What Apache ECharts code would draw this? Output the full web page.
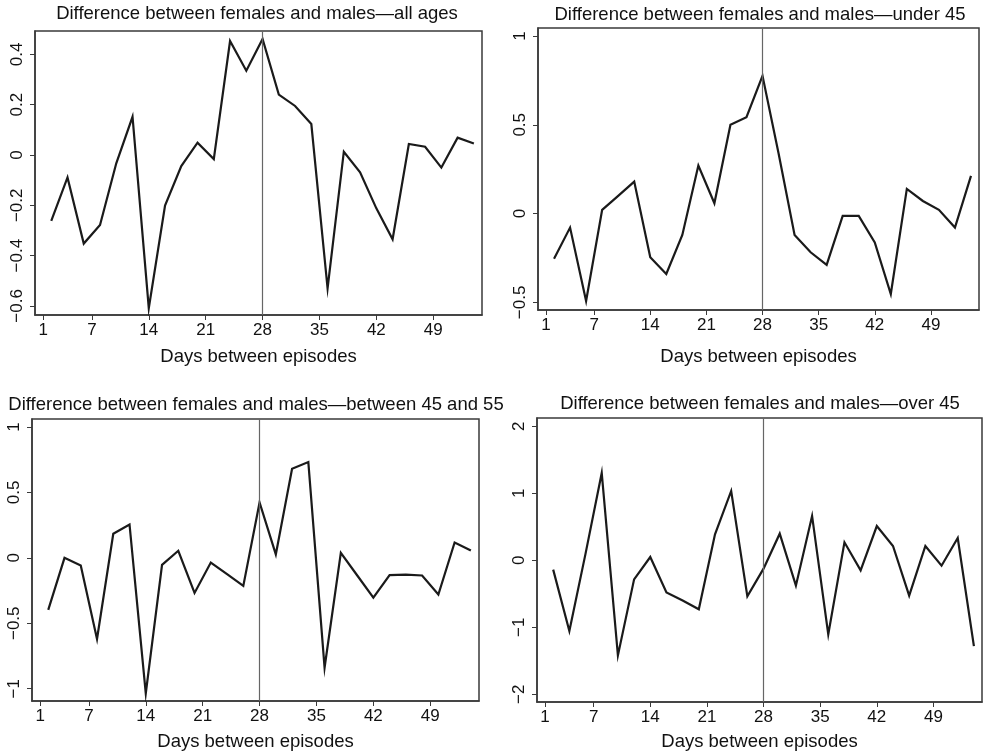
<!DOCTYPE html>
<html>
<head>
<meta charset="utf-8">
<script src="https://cdn.jsdelivr.net/npm/echarts@6/dist/echarts.min.js"></script>
<style>
html,body{margin:0;padding:0;background:#fff;}
#chart{width:983px;height:756px;}
</style>
</head>
<body>
<div id="chart"></div>
<script>
// ---- data ----
var days = [2,4,6,8,10,12,14,16,18,20,22,24,26,28,30,32,34,36,38,40,42,44,46,48,50,52,54];

var allAges = [-0.262,-0.089,-0.352,-0.278,-0.033,0.152,-0.609,-0.201,-0.044,0.049,-0.016,0.453,0.335,0.461,0.240,0.195,0.123,-0.530,0.013,-0.069,-0.212,-0.335,0.044,0.033,-0.050,0.069,0.046];
var under45 = [-0.254,-0.079,-0.492,0.021,0.100,0.180,-0.246,-0.340,-0.120,0.271,0.058,0.500,0.543,0.776,0.340,-0.120,-0.218,-0.289,-0.013,-0.013,-0.162,-0.453,0.139,0.071,0.021,-0.079,0.212];
var between45and55 = [-0.398,0.000,-0.059,-0.620,0.184,0.255,-1.036,-0.054,0.054,-0.268,-0.036,-0.125,-0.214,0.423,0.026,0.681,0.732,-0.839,0.038,-0.133,-0.304,-0.132,-0.128,-0.135,-0.280,0.117,0.056];
var over45 = [-0.139,-1.055,0.100,1.303,-1.418,-0.284,0.050,-0.478,-0.600,-0.731,0.388,1.035,-0.537,-0.124,0.398,-0.378,0.662,-1.104,0.269,-0.149,0.512,0.214,-0.527,0.214,-0.080,0.333,-1.279];

var xTicks = [1,7,14,21,28,35,42,49];
var yTicks1 = [-0.6,-0.4,-0.2,0,0.2,0.4];
var yTicks2 = [-0.5,0,0.5,1];
var yTicks3 = [-1,-0.5,0,0.5,1];
var yTicks4 = [-2,-1,0,1,2];

var titles = [
  'Difference between females and males\u2014all ages',
  'Difference between females and males\u2014under 45',
  'Difference between females and males\u2014between 45 and 55',
  'Difference between females and males\u2014over 45'
];
var xName = 'Days between episodes';
var refDay = 28;

// ---- chart ----
var FONT = '"Liberation Sans", Arial, Helvetica, sans-serif';
var FRAME = '#3a3a3a';

function fmt(v){
  var s = String(Math.abs(v));
  return (v < 0 ? '\u2212' : '') + s;
}
function pairs(vals){
  return days.map(function(d,i){ return [d, vals[i]]; });
}

var grids = [
  {left:35, top:31, width:447, height:284},
  {left:538, top:28, width:441, height:282},
  {left:32, top:419, width:447, height:282},
  {left:537, top:418, width:445, height:284}
];
var nameGaps = [32, 37, 31, 30];
var yRanges = [[-0.636,0.493],[-0.543,1.045],[-1.094,1.061],[-2.114,2.124]];
var yTickSets = [yTicks1,yTicks2,yTicks3,yTicks4];
var seriesVals = [allAges, under45, between45and55, over45];
var titlePos = [[257,14],[760,15],[256,405],[760,404]];

var option = {
  backgroundColor:'#fff',
  animation:false,
  grid: grids.map(function(g){
    return {left:g.left, top:g.top, width:g.width, height:g.height, show:true,
      borderColor:FRAME, borderWidth:1.5, backgroundColor:'#fff', containLabel:false};
  }),
  xAxis: grids.map(function(g,i){
    return {
      type:'value', gridIndex:i, min:0, max:55,
      name:xName, nameLocation:'middle', nameGap:nameGaps[i],
      nameTextStyle:{fontFamily:FONT, fontSize:18.5, color:'#111'},
      axisLine:{show:true, onZero:false, lineStyle:{color:FRAME, width:1.5}},
      axisTick:{show:true, inside:false, length:5, customValues:xTicks, lineStyle:{color:FRAME, width:1}},
      axisLabel:{show:true, margin:7, customValues:xTicks, fontFamily:FONT, fontSize:17, color:'#111',
        formatter:function(v){return fmt(v);}},
      splitLine:{show:false}
    };
  }),
  yAxis: grids.map(function(g,i){
    return {
      type:'value', gridIndex:i, min:yRanges[i][0], max:yRanges[i][1],
      axisLine:{show:true, onZero:false, lineStyle:{color:FRAME, width:1.5}},
      axisTick:{show:true, inside:false, length:5, customValues:yTickSets[i], lineStyle:{color:FRAME, width:1}},
      axisLabel:{show:true, rotate:90, margin:9, customValues:yTickSets[i], fontFamily:FONT, fontSize:17, color:'#111',
        formatter:function(v){return fmt(v);}},
      splitLine:{show:false}
    };
  }),
  series: seriesVals.map(function(vals,i){
    return {
      type:'line', xAxisIndex:i, yAxisIndex:i, data:pairs(vals),
      symbol:'none', silent:true,
      lineStyle:{color:'#1a1a1a', width:2.2, join:'miter'},
      markLine:{
        silent:true, symbol:['none','none'], label:{show:false},
        lineStyle:{color:'#666', width:1.2, type:'solid'},
        data:[{xAxis:refDay}]
      },
      z:3
    };
  }),
  graphic: titles.map(function(t,i){
    return {type:'text', x:titlePos[i][0], y:titlePos[i][1], silent:true,
      style:{text:t, font:'18.5px ' + FONT, fill:'#111', textAlign:'center', textVerticalAlign:'middle'}};
  })
};

var chart = echarts.init(document.getElementById('chart'), null, {renderer:'canvas'});
chart.setOption(option);
</script>
</body>
</html>
